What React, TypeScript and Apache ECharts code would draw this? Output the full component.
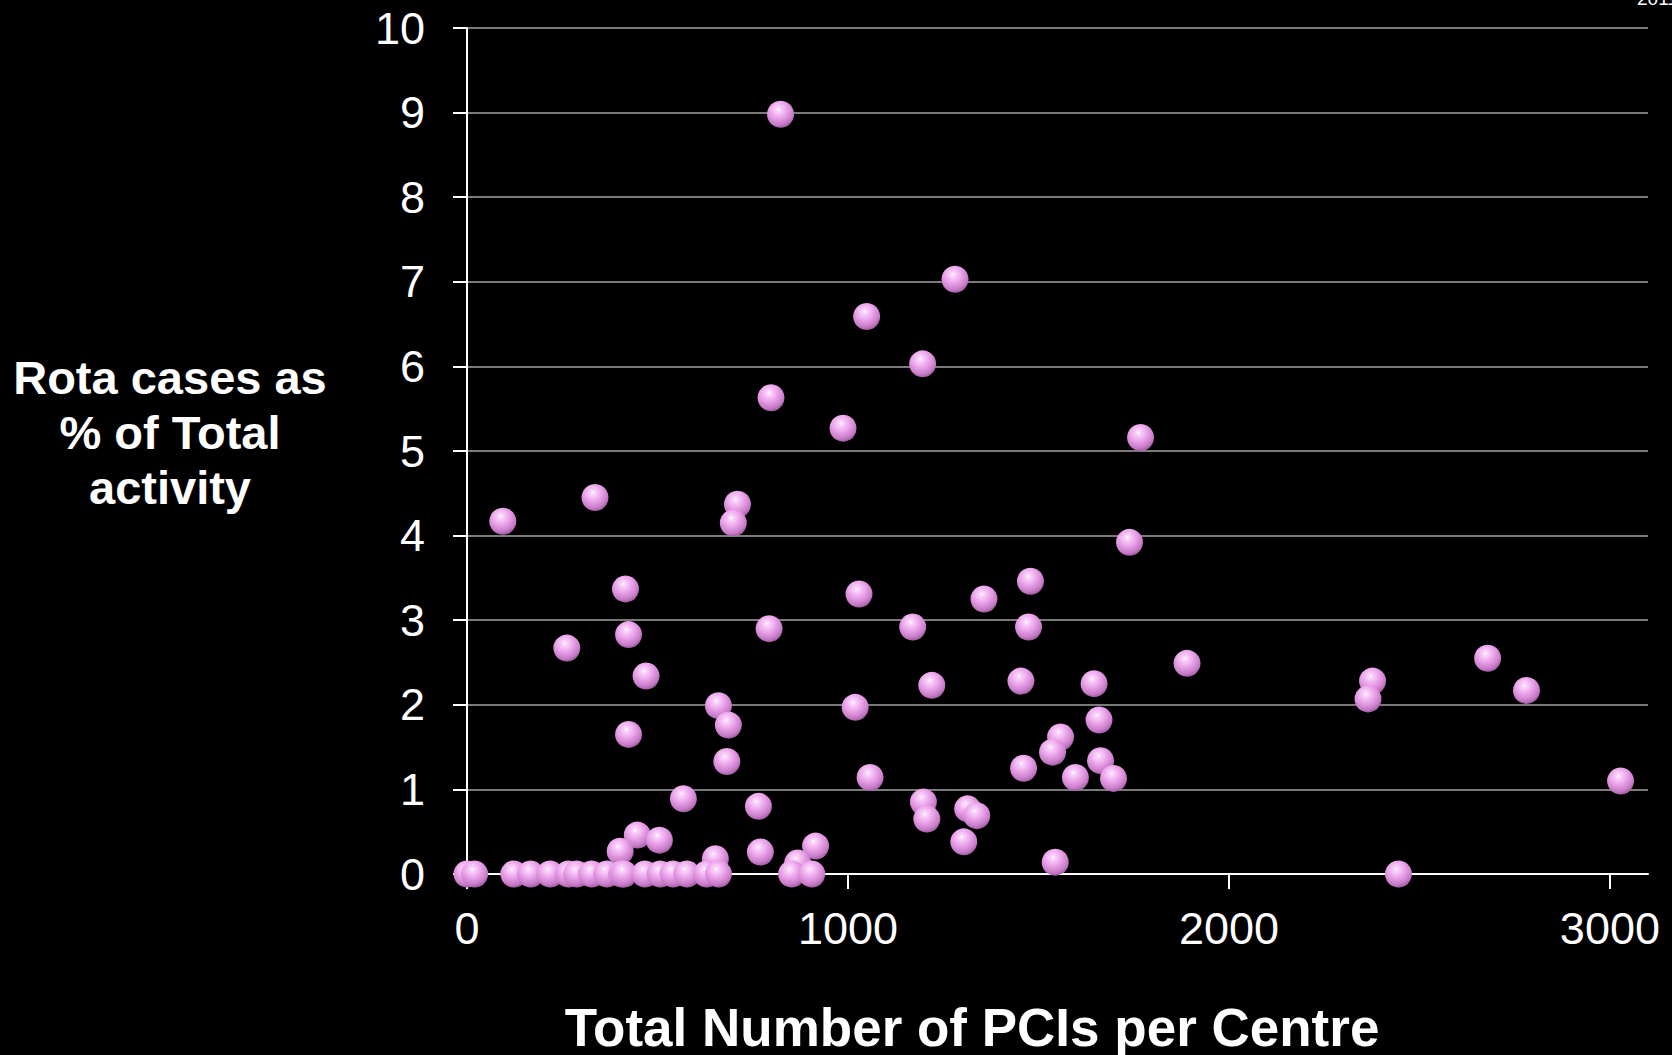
import React, { useEffect, useRef } from "react";
import * as echarts from "echarts";

// Total number of PCIs per centre (x) and Rota cases as % of total activity (y)
const pciTotals: number[] = [
  94, 336, 710, 699, 416, 424, 793, 262, 470, 660, 686, 424, 682, 568,
  1281, 1049, 1196, 987, 1768, 1739, 1029, 1357, 1479, 1170, 1474, 823, 798,
  1890, 1454, 1646, 2377, 2365, 1659, 1558, 1537, 1461, 1663, 1597, 1697, 1544,
  2679, 2781, 3028, 1058, 1198, 1207, 1314, 1338, 1304, 765, 447, 505, 402,
  770, 915, 868, 652, 1019, 1220,
  0, 20, 123, 167, 218, 266, 288, 327, 367, 406, 412, 467, 507, 541, 577,
  629, 660, 852, 905, 2445,
];
const rotaPct: number[] = [
  4.17, 4.45, 4.37, 4.15, 3.37, 2.83, 2.9, 2.67, 2.34, 1.99, 1.76, 1.65, 1.33, 0.89,
  7.03, 6.59, 6.03, 5.27, 5.16, 3.92, 3.31, 3.25, 3.46, 2.92, 2.92, 8.98, 5.63,
  2.49, 2.28, 2.25, 2.28, 2.07, 1.82, 1.62, 1.44, 1.25, 1.34, 1.14, 1.13, 0.14,
  2.55, 2.17, 1.1, 1.14, 0.85, 0.65, 0.77, 0.69, 0.38, 0.8, 0.46, 0.4, 0.27,
  0.26, 0.33, 0.13, 0.18, 1.97, 2.23,
  0, 0, 0, 0, 0, 0, 0, 0, 0, 0, 0, 0, 0, 0, 0,
  0, 0, 0, 0, 0,
];
const xTickLabels: number[] = [0, 1000, 2000, 3000];
const yTitleLines: string[] = ["Rota cases as", "% of Total", "activity"];
const xTitle = "Total Number of PCIs per Centre";
const cornerText = "2011";

export default function App() {
  const ref = useRef<HTMLDivElement>(null);
  useEffect(() => {
    if (!ref.current) return;
    const chart = echarts.init(ref.current, null, { renderer: "svg" });
    const data = pciTotals.map((x, i) => [x, rotaPct[i]]);
    const font = "Liberation Sans, Arial, sans-serif";
    chart.setOption({
      animation: false,
      backgroundColor: "#000000",
      textStyle: { fontFamily: font },
      grid: { left: 467, right: 24, top: 28, bottom: 181, containLabel: false },
      xAxis: {
        type: "value",
        min: 0,
        max: 3100,
        interval: 1000,
        axisLine: { show: true, onZero: false, lineStyle: { color: "#ffffff", width: 2 } },
        axisTick: {
          show: true,
          inside: false,
          length: 15,
          customValues: xTickLabels,
          lineStyle: { color: "#ffffff", width: 2 },
        },
        axisLabel: {
          color: "#ffffff",
          fontSize: 45,
          fontFamily: font,
          margin: 32,
          customValues: xTickLabels,
          formatter: (v: number) => String(v),
        },
        splitLine: { show: false },
      },
      yAxis: {
        type: "value",
        min: 0,
        max: 10,
        interval: 1,
        axisLine: { show: true, onZero: false, lineStyle: { color: "#ffffff", width: 2 } },
        axisTick: { show: true, inside: false, length: 14, lineStyle: { color: "#ffffff", width: 2 } },
        axisLabel: { color: "#ffffff", fontSize: 45, fontFamily: font, margin: 42 },
        splitLine: { show: true, lineStyle: { color: "#7a7a7a", width: 2 } },
      },
      series: [
        {
          type: "scatter",
          data,
          symbol: "circle",
          symbolSize: 27,
          itemStyle: {
            opacity: 1,
            color: {
              type: "radial",
              x: 0.42,
              y: 0.32,
              r: 0.72,
              colorStops: [
                { offset: 0, color: "#ffffff" },
                { offset: 0.1, color: "#fbd6fb" },
                { offset: 0.45, color: "#eaa2ea" },
                { offset: 0.8, color: "#c57ac5" },
                { offset: 0.93, color: "#a85ea8" },
                { offset: 1, color: "#e4b4e4" },
              ],
            },
          },
        },
      ],
      graphic: [
        {
          type: "text",
          style: {
            text: yTitleLines.join("\n"),
            x: 170,
            y: 432,
            fill: "#ffffff",
            font: `bold 47px ${font}`,
            align: "center",
            verticalAlign: "middle",
            lineHeight: 55,
          },
        },
        {
          type: "text",
          style: {
            text: xTitle,
            x: 972,
            y: 1027,
            fill: "#ffffff",
            font: `bold 53px ${font}`,
            align: "center",
            verticalAlign: "middle",
          },
        },
        {
          type: "text",
          style: {
            text: cornerText,
            x: 1637,
            y: 8,
            fill: "#ffffff",
            font: `19px ${font}`,
            align: "left",
            verticalAlign: "bottom",
          },
        },
      ],
    });
    return () => chart.dispose();
  }, []);
  return (
    <div
      ref={ref}
      style={{ position: "fixed", left: 0, top: 0, width: 1672, height: 1055, background: "#000" }}
    />
  );
}
